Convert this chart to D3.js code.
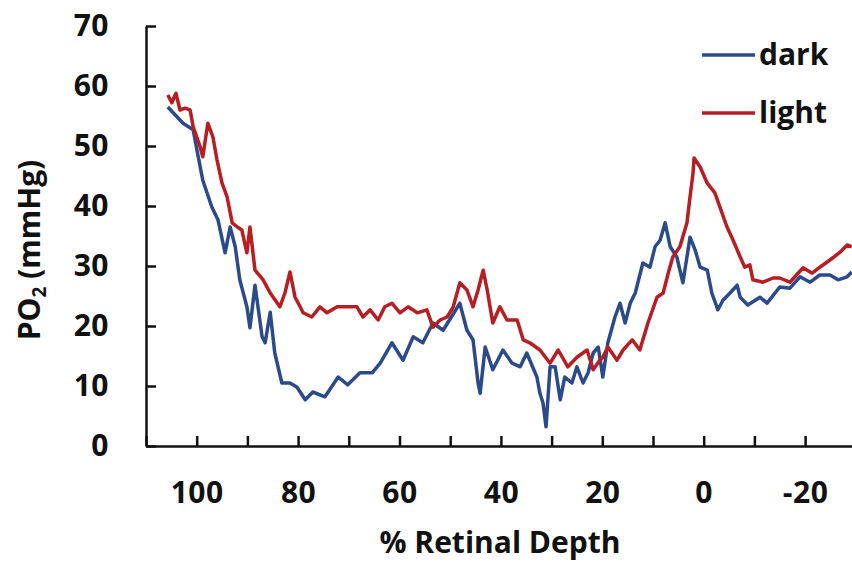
<!DOCTYPE html>
<html>
<head>
<meta charset="utf-8">
<script src="https://cdn.jsdelivr.net/npm/d3@7"></script>
<style>
  body { margin: 0; background: #fff; }
  text { font-family: "Open Sans", sans-serif; font-weight: bold; fill: #111; }
</style>
</head>
<body>
<div id="chart"></div>
<script>
// % retinal depth vs PO2 (mmHg)
var darkDepth = [105.7, 102.7, 100.7, 99.7, 98.8, 97.0, 95.8, 94.4, 93.4, 92.4, 91.5, 90.1, 89.5, 88.5, 87.1, 86.5, 85.5, 84.6, 83.2, 81.6,
  80.2, 78.6, 77.1, 74.7, 72.1, 70.2, 67.8, 65.4, 63.8, 61.5, 59.3, 57.3, 55.4, 53.4, 51.4, 49.4, 48.1, 46.7, 45.5, 44.5,
  44.1, 43.1, 41.6, 39.6, 37.8, 36.2, 34.9, 32.9, 32.3, 31.7, 31.1, 30.3, 29.3, 28.3, 27.4, 26.0, 25.0, 23.8, 22.8, 21.8,
  20.8, 19.9, 18.9, 17.5, 16.5, 15.5, 14.5, 13.5, 12.0, 10.6, 9.6, 8.6, 7.6, 6.6, 5.3, 4.1, 2.7, 1.7, 0.7, -0.7,
  -1.6, -2.8, -3.8, -5.2, -6.6, -7.2, -8.7, -11.1, -12.5, -15.0, -17.0, -19.0, -21.0, -22.9, -24.9, -26.5, -28.3, -29.2];
var darkPO2 = [56.5, 53.8, 52.7, 48.2, 44.3, 39.8, 37.7, 32.2, 36.5, 33.2, 27.7, 23.2, 19.7, 26.8, 18.2, 17.2, 22.3, 15.5, 10.5, 10.5,
  9.8, 7.7, 9.0, 8.2, 11.5, 10.2, 12.2, 12.2, 13.8, 17.2, 14.3, 18.2, 17.2, 20.5, 19.3, 22.0, 23.8, 19.3, 17.7, 10.5,
  8.8, 16.5, 12.7, 16.0, 13.8, 13.2, 15.5, 11.5, 8.8, 7.2, 3.2, 13.2, 13.2, 7.7, 11.5, 10.5, 13.2, 10.5, 12.2, 15.5,
  16.5, 11.5, 17.2, 21.5, 23.8, 20.5, 23.8, 25.5, 30.5, 29.8, 33.2, 34.3, 37.2, 33.2, 31.5, 27.2, 34.8, 32.7, 29.8, 29.3,
  25.5, 22.7, 24.3, 25.5, 26.8, 24.8, 23.5, 24.8, 23.8, 26.5, 26.3, 28.2, 27.3, 28.5, 28.5, 27.7, 28.2, 29.0];

var lightDepth = [105.7, 104.9, 104.1, 103.3, 102.3, 101.3, 100.7, 99.3, 98.8, 97.8, 96.8, 96.0, 95.0, 94.0, 93.0, 92.0, 91.1, 90.1, 89.5, 88.5,
  86.9, 85.5, 83.6, 82.6, 81.6, 80.6, 79.6, 79.0, 77.3, 75.7, 74.3, 72.3, 70.4, 68.4, 67.2, 65.8, 64.2, 62.9, 61.5, 59.9,
  58.3, 56.5, 54.6, 53.4, 52.0, 50.6, 49.4, 48.1, 46.7, 45.5, 44.5, 43.5, 42.7, 41.6, 40.2, 38.8, 36.8, 35.6, 34.3, 32.3,
  30.3, 28.7, 26.8, 25.0, 23.0, 21.8, 20.5, 19.9, 18.9, 17.1, 15.9, 14.1, 12.6, 11.0, 9.2, 8.0, 7.0, 6.1, 4.7, 3.3,
  2.7, 2.1, 1.9, 0.7, -0.7, -2.2, -3.2, -4.6, -5.8, -7.2, -8.1, -9.1, -9.7, -11.7, -13.7, -15.0, -17.0, -19.6, -21.4, -22.9,
  -24.9, -26.9, -28.3, -29.2];
var lightPO2 = [58.5, 57.2, 58.8, 56.0, 56.3, 56.0, 53.2, 49.8, 48.2, 53.8, 51.5, 47.7, 43.8, 41.5, 37.2, 36.5, 36.0, 32.2, 36.5, 29.3,
  27.7, 25.5, 23.2, 25.5, 29.0, 24.8, 23.2, 22.2, 21.5, 23.2, 22.2, 23.2, 23.2, 23.2, 21.5, 22.7, 21.0, 23.2, 23.8, 22.2,
  23.2, 22.2, 22.7, 19.8, 21.0, 21.5, 23.2, 27.2, 26.0, 23.2, 26.0, 29.3, 26.0, 20.5, 23.2, 21.0, 21.0, 17.7, 17.2, 16.0,
  13.8, 16.0, 13.2, 14.8, 16.0, 12.7, 14.3, 14.8, 16.5, 14.3, 16.0, 17.7, 16.0, 20.5, 24.8, 25.5, 28.8, 31.5, 33.2, 37.2,
  41.5, 45.5, 48.0, 46.5, 43.8, 42.2, 39.8, 36.5, 34.3, 31.5, 29.8, 30.2, 27.7, 27.3, 28.0, 28.0, 27.3, 29.7, 28.8, 29.8,
  31.0, 32.3, 33.5, 33.2];

var seriesNames = ["dark", "light"];
var xTicks = [110, 100, 90, 80, 70, 60, 50, 40, 30, 20, 10, 0, -10, -20, -30];
var xLabels = [100, 80, 60, 40, 20, 0, -20];
var yTicks = [0, 10, 20, 30, 40, 50, 60, 70];

var svgWidth = 852, svgHeight = 563;
var colors = { dark: "#2b4a8a", light: "#b81d22" };
var fontSize = 30;

var svg = d3.select("#chart").append("svg")
  .attr("width", svgWidth)
  .attr("height", svgHeight);

var x = d3.scaleLinear().domain([110, -30]).range([146, 855.8]);
var y = d3.scaleLinear().domain([0, 70]).range([446, 26]);

// axes, ticks point inward
var xAxis = d3.axisBottom(x)
  .tickValues(xTicks)
  .tickSizeInner(-10)
  .tickSizeOuter(0)
  .tickPadding(36)
  .tickFormat(d => xLabels.indexOf(d) >= 0 ? d : "");

var yAxis = d3.axisLeft(y)
  .tickValues(yTicks)
  .tickSizeInner(-10)
  .tickSizeOuter(0)
  .tickPadding(37);

var gx = svg.append("g")
  .attr("transform", "translate(0,446)")
  .call(xAxis);
var gy = svg.append("g")
  .attr("transform", "translate(146,0)")
  .call(yAxis);

[gx, gy].forEach(function(g) {
  g.select(".domain").attr("stroke", "#111").attr("stroke-width", 2.5);
  g.selectAll(".tick line").attr("stroke", "#111").attr("stroke-width", 2.5);
  g.selectAll(".tick text")
    .attr("font-family", "Open Sans, sans-serif")
    .attr("font-weight", "bold")
    .attr("font-size", fontSize)
    .attr("letter-spacing", 0.5)
    .attr("fill", "#111");
});

// lines
var line = d3.line()
  .x(d => x(d[0]))
  .y(d => y(d[1]));

var darkData = d3.zip(darkDepth, darkPO2);
var lightData = d3.zip(lightDepth, lightPO2);

svg.append("path")
  .datum(darkData)
  .attr("fill", "none")
  .attr("stroke", colors.dark)
  .attr("stroke-width", 3.5)
  .attr("stroke-linejoin", "round")
  .attr("d", line);

svg.append("path")
  .datum(lightData)
  .attr("fill", "none")
  .attr("stroke", colors.light)
  .attr("stroke-width", 3.5)
  .attr("stroke-linejoin", "round")
  .attr("d", line);

// legend
var legend = svg.append("g").attr("transform", "translate(702,55)");
seriesNames.forEach(function(name, i) {
  var row = legend.append("g").attr("transform", `translate(0, ${i * 58})`);
  row.append("line")
    .attr("x1", 0).attr("x2", 53)
    .attr("stroke", colors[name])
    .attr("stroke-width", 3.5);
  row.append("text")
    .attr("x", 57)
    .attr("dy", "0.33em")
    .attr("font-size", fontSize)
    .text(name);
});

// axis titles
svg.append("text")
  .attr("x", 500)
  .attr("y", 553)
  .attr("text-anchor", "middle")
  .attr("font-size", fontSize)
  .text("% Retinal Depth");

var yTitle = svg.append("text")
  .attr("transform", "translate(40,250) rotate(-90)")
  .attr("text-anchor", "middle")
  .attr("font-size", fontSize);
yTitle.append("tspan").text("PO");
yTitle.append("tspan").attr("font-size", 19).attr("dy", 6).text("2");
yTitle.append("tspan").attr("dy", -6).text(" (mmHg)");
</script>
</body>
</html>
